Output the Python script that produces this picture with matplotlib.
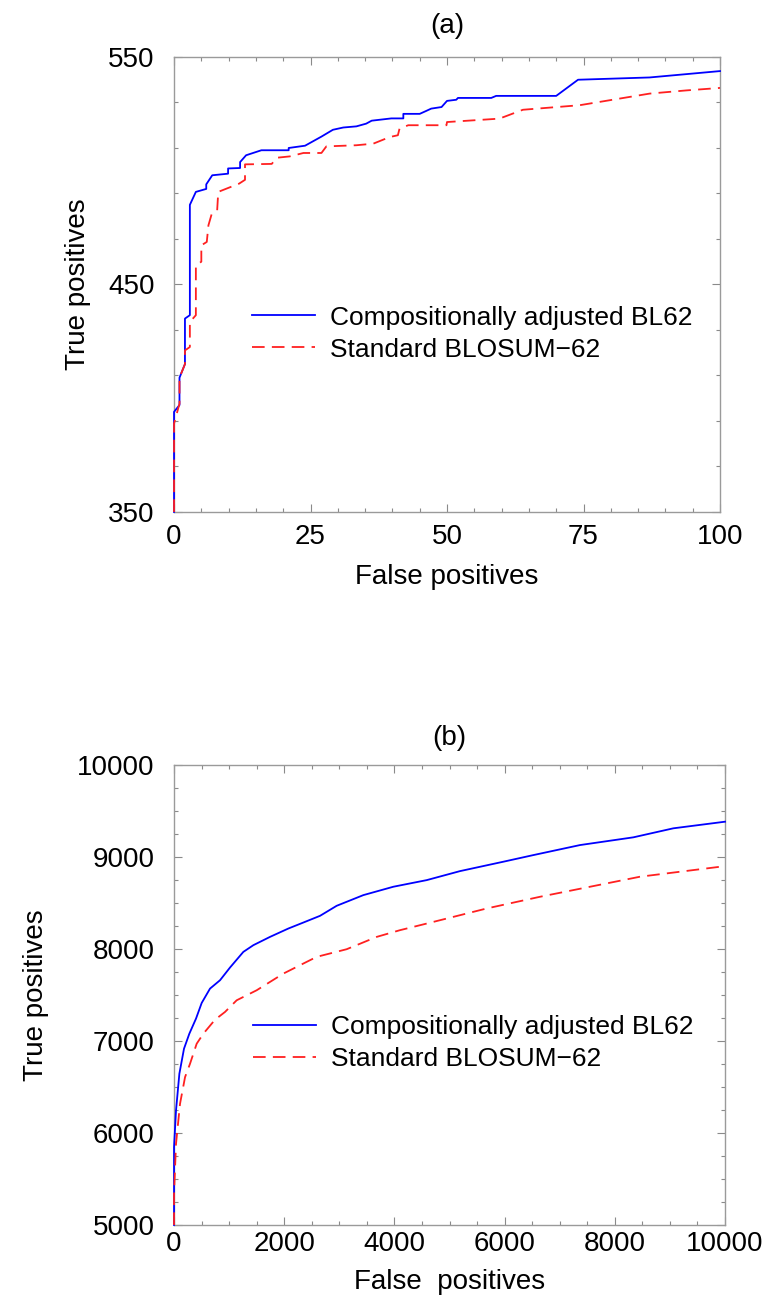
import numpy as np
import matplotlib
matplotlib.use("Agg")
import matplotlib.pyplot as plt
from matplotlib.ticker import MultipleLocator

plt.rcParams['font.family'] = ['Liberation Sans', 'DejaVu Sans']

# panel (a): first 100 false positives
fp_a_adj = [0, 0, 1, 1, 2, 2, 2.9, 2.9, 4, 5.9, 5.9, 7, 9.9, 9.9, 12.1, 12.1, 13.2, 16, 21, 21,
            24, 27, 29.1, 31, 33.4, 35.2, 36.2, 39.8, 42, 42, 45, 46.2, 47.1, 49, 50, 51.7, 52,
            58.1, 59, 70, 74, 87.1, 100]
tp_a_adj = [350, 394, 397, 409, 415, 435, 436.5, 485, 490.7, 492, 494, 498, 498.7, 501, 501.2,
            503.8, 506.8, 509, 509, 510, 511, 515, 518, 519, 519.5, 520.7, 522, 523, 523, 525,
            525, 526.3, 527.3, 528, 530.7, 531.2, 532, 532, 532.9, 532.9, 540, 541, 543.8]
fp_a_std = [0, 0, 1, 1, 2, 2, 2.9, 2.9, 4, 4, 5, 5, 6, 6.3, 6.9, 7.9, 8.1, 11.9, 13, 13,
            17.9, 18.8, 21.2, 23.7, 27, 27.9, 33.4, 36.5, 39.5, 41, 41.3, 42.9, 49.9, 50,
            59.6, 63.9, 74.3, 87.1, 93.8, 100]
tp_a_std = [350, 388.8, 397.6, 409, 415, 421, 422.5, 433.5, 436.5, 458.4, 460, 467.2, 468.7,
            476, 481, 482.6, 490.7, 494.3, 496, 502.8, 503, 505.7, 506.3, 507.8, 507.8, 510.7,
            511.2, 511.9, 514.8, 515.6, 518.5, 520, 520, 521.4, 522.9, 526.8, 528.8, 533.9,
            535.3, 536.4]

# panel (b): first 10000 false positives
fp_b_adj = [0, 0, 36, 97, 181, 278, 399, 502, 653, 835, 1016, 1258, 1440, 1742, 2075, 2347,
            2650, 2952, 3436, 3980, 4586, 5191, 5977, 6521, 7368, 8336, 9062, 10000]
tp_b_adj = [5000, 5846, 6245, 6644, 6916, 7079, 7243, 7413, 7569, 7660, 7798, 7968, 8041,
            8131, 8222, 8287, 8360, 8469, 8585, 8676, 8748, 8846, 8948, 9020, 9129, 9213,
            9311, 9383]
fp_b_std = [0, 0, 36, 109, 200, 290, 411, 532, 744, 925, 1137, 1500, 1984, 2286, 2589, 3133,
            3678, 4101, 4586, 5191, 5675, 6642, 7550, 8457, 10000]
tp_b_std = [5000, 5337, 5882, 6318, 6607, 6752, 6970, 7079, 7231, 7315, 7442, 7551, 7732,
            7823, 7914, 7997, 8131, 8204, 8276, 8367, 8440, 8567, 8676, 8785, 8900]

labels = ["Compositionally adjusted BL62", "Standard BLOSUM\u221262"]

fig = plt.figure(figsize=(7.68, 13.04), dpi=100)
ax1 = fig.add_axes([0.2266, 0.6074, 0.7109, 0.3489])
ax2 = fig.add_axes([0.2266, 0.0606, 0.7174, 0.3528])


def style(ax, xpad):
    for s in ax.spines.values():
        s.set_color('#9a9a9a')
        s.set_linewidth(1.0)
    ax.tick_params(which='both', direction='in', top=True, right=True, color='#8a8a8a',
                   labelsize=20, width=0.8)
    ax.tick_params(which='major', length=5.5)
    ax.tick_params(which='minor', length=3)
    ax.tick_params(axis='y', pad=14)
    ax.tick_params(axis='x', pad=xpad)


def curves(ax, xa, ya, xs, ys):
    ax.plot(xa, ya, color='#0000ff', lw=1.3, label=labels[0], zorder=3, clip_on=False)
    ax.plot(xs, ys, color='#ff2020', lw=1.3, ls=(0, (7, 4)), label=labels[1], zorder=3,
            clip_on=False)


curves(ax1, fp_a_adj, tp_a_adj, fp_a_std, tp_a_std)
ax1.set_xlim(0, 100)
ax1.set_ylim(350, 550)
ax1.xaxis.set_major_locator(MultipleLocator(25))
ax1.xaxis.set_minor_locator(MultipleLocator(5))
ax1.yaxis.set_major_locator(MultipleLocator(100, offset=50))
ax1.yaxis.set_minor_locator(MultipleLocator(20, offset=10))
style(ax1, 9)
ax1.set_xlabel("False positives", fontsize=20, labelpad=10)
ax1.set_ylabel("True positives", fontsize=20, labelpad=12)
ax1.set_title("(a)", fontsize=20, pad=17)
ax1.legend(loc='center left', bbox_to_anchor=(0.143, 0.392), frameon=False, fontsize=19,
           handlelength=2.4, handletextpad=0.57, borderpad=0, borderaxespad=0,
           labelspacing=0.3)

curves(ax2, fp_b_adj, tp_b_adj, fp_b_std, tp_b_std)
ax2.set_xlim(0, 10000)
ax2.set_ylim(5000, 10000)
ax2.xaxis.set_major_locator(MultipleLocator(2000))
ax2.xaxis.set_minor_locator(MultipleLocator(500))
ax2.yaxis.set_major_locator(MultipleLocator(1000))
ax2.yaxis.set_minor_locator(MultipleLocator(250))
style(ax2, 4)
ax2.set_xlabel("False  positives", fontsize=20, labelpad=9)
ax2.set_ylabel("True positives", fontsize=20, labelpad=20)
ax2.set_title("(b)", fontsize=20, pad=14)
ax2.legend(loc='center left', bbox_to_anchor=(0.143, 0.3946), frameon=False, fontsize=19,
           handlelength=2.4, handletextpad=0.57, borderpad=0, borderaxespad=0,
           labelspacing=0.3)

fig.savefig("out.png", dpi=100)
